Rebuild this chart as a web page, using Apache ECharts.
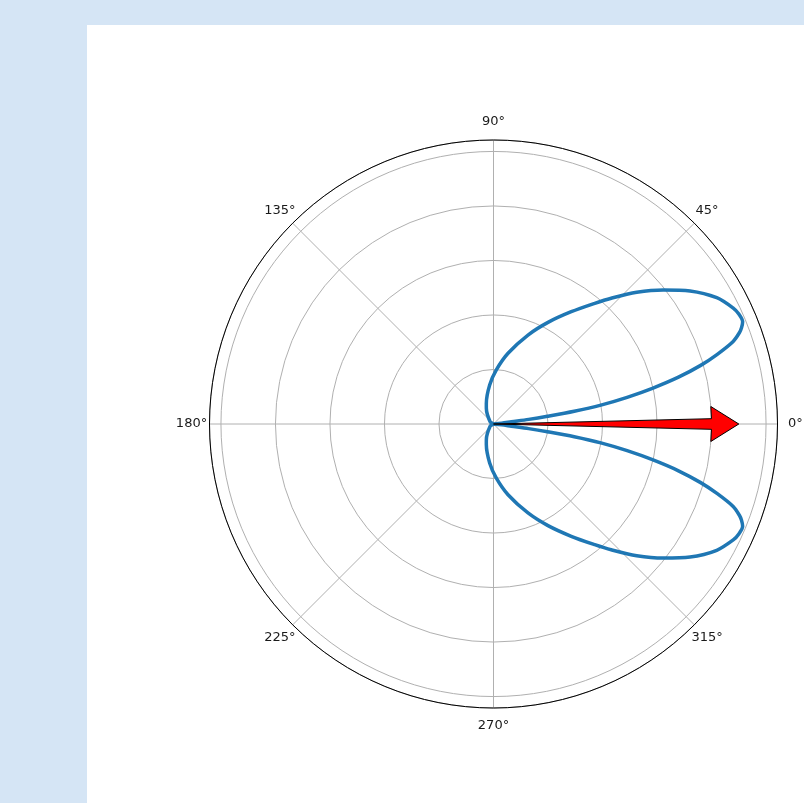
<!DOCTYPE html>
<html>
<head>
<meta charset="utf-8">
<script src="https://cdn.jsdelivr.net/npm/echarts@6/dist/echarts.min.js"></script>
<style>
  html, body { margin: 0; padding: 0; background: #d5e5f5; }
  #chart { position: absolute; left: 87px; top: 25px; width: 717px; height: 778px; background: #ffffff; }
</style>
</head>
<body>
<div id="chart"></div>
<script>
// Upper lobe of the pattern: angle (degrees) and radius
const upperAngle  = [0, 5.5, 7.0, 7.5, 8.2, 9.0, 10.0, 11.3, 12.7, 14.2, 15.8, 17.3, 19.0, 20.4, 21.2, 22.3, 24.2, 25.8, 29.5, 34.1, 38.3, 42.6, 46.9, 50.0, 55.3, 61.8, 68.8, 78.4, 87.0, 95.6, 109.2, 114.6, 146, 180];
const upperRadius = [0, 0.030, 0.066, 0.130, 0.200, 0.300, 0.400, 0.500, 0.600, 0.700, 0.790, 0.860, 0.930, 0.963, 0.976, 0.988, 0.986, 0.977, 0.941, 0.871, 0.794, 0.714, 0.632, 0.578, 0.501, 0.423, 0.350, 0.265, 0.199, 0.144, 0.080, 0.063, 0.015, 0];

// Lower lobe of the pattern
const lowerAngle  = [180, 214, 245.4, 250.8, 264.4, 273.0, 281.6, 291.2, 298.2, 304.7, 310.0, 313.1, 317.4, 321.7, 325.9, 330.5, 334.2, 335.8, 337.7, 338.8, 339.6, 341.0, 342.7, 344.2, 345.8, 347.3, 348.7, 350.0, 351.0, 351.8, 352.5, 353.0, 354.5, 360];
const lowerRadius = [0, 0.015, 0.063, 0.080, 0.144, 0.199, 0.265, 0.350, 0.423, 0.501, 0.578, 0.632, 0.714, 0.794, 0.871, 0.941, 0.977, 0.986, 0.988, 0.976, 0.963, 0.930, 0.860, 0.790, 0.700, 0.600, 0.500, 0.400, 0.300, 0.200, 0.130, 0.066, 0.030, 0];

// Arrow pointing along 0°
const arrowAngle = 0;
const arrowLength = 0.9;

// Angle tick labels
const angleTicks = [0, 45, 90, 135, 180, 225, 270, 315];

const rMax = 1.042;
const labelRadius = 1.108;   // labels sit just outside the frame, centred on their angle

const curve = [];
upperAngle.forEach((a, i) => curve.push([upperRadius[i], a]));
lowerAngle.forEach((a, i) => curve.push([lowerRadius[i], a]));

const chart = echarts.init(document.getElementById('chart'));

chart.setOption({
  backgroundColor: '#ffffff',
  animation: false,
  polar: { center: [406.5, 399], radius: 284 },
  angleAxis: {
    type: 'value', min: 0, max: 360, interval: 45,
    startAngle: 0, clockwise: false,
    axisLine: { show: true, lineStyle: { color: '#000000', width: 1 } },
    axisTick: { show: false },
    axisLabel: { show: false },
    splitLine: { show: true, lineStyle: { color: '#b0b0b0', width: 1 } }
  },
  radiusAxis: {
    type: 'value', min: 0, max: rMax, interval: 0.2,
    axisLine: { show: false }, axisTick: { show: false }, axisLabel: { show: false },
    splitLine: { show: true, lineStyle: { color: '#b0b0b0', width: 1 } }
  },
  series: [
    {
      type: 'line', coordinateSystem: 'polar',
      data: curve, symbol: 'none', smooth: 0.3,
      lineStyle: { color: '#1f77b4', width: 3.5, join: 'round' }, z: 3
    },
    {
      type: 'custom', coordinateSystem: 'polar',
      data: [[arrowLength, arrowAngle]], z: 4,
      renderItem: function (params, api) {
        const len = api.value(0), ang = api.value(1);
        const headBase = len - 0.1, headHalf = 4.6, shaftHalf = 1.4;
        const pts = [
          api.coord([len, ang]),
          api.coord([headBase, ang + headHalf]),
          api.coord([headBase, ang + shaftHalf]),
          api.coord([0, ang]),
          api.coord([headBase, ang - shaftHalf]),
          api.coord([headBase, ang - headHalf])
        ];
        return {
          type: 'polygon',
          shape: { points: pts },
          style: { fill: '#ff0000', stroke: '#000000', lineWidth: 1 }
        };
      }
    },
    {
      // angle tick labels, centred outside the frame
      type: 'custom', coordinateSystem: 'polar', clip: false, silent: true,
      data: angleTicks.map(a => [labelRadius, a]), z: 5,
      renderItem: function (params, api) {
        const p = api.coord([api.value(0), api.value(1)]);
        return {
          type: 'text',
          x: p[0], y: p[1],
          style: {
            text: api.value(1) + '°',
            fill: '#1a1a1a', font: '13px "DejaVu Sans"',
            align: 'center', verticalAlign: 'middle'
          }
        };
      }
    }
  ]
});
</script>
</body>
</html>
